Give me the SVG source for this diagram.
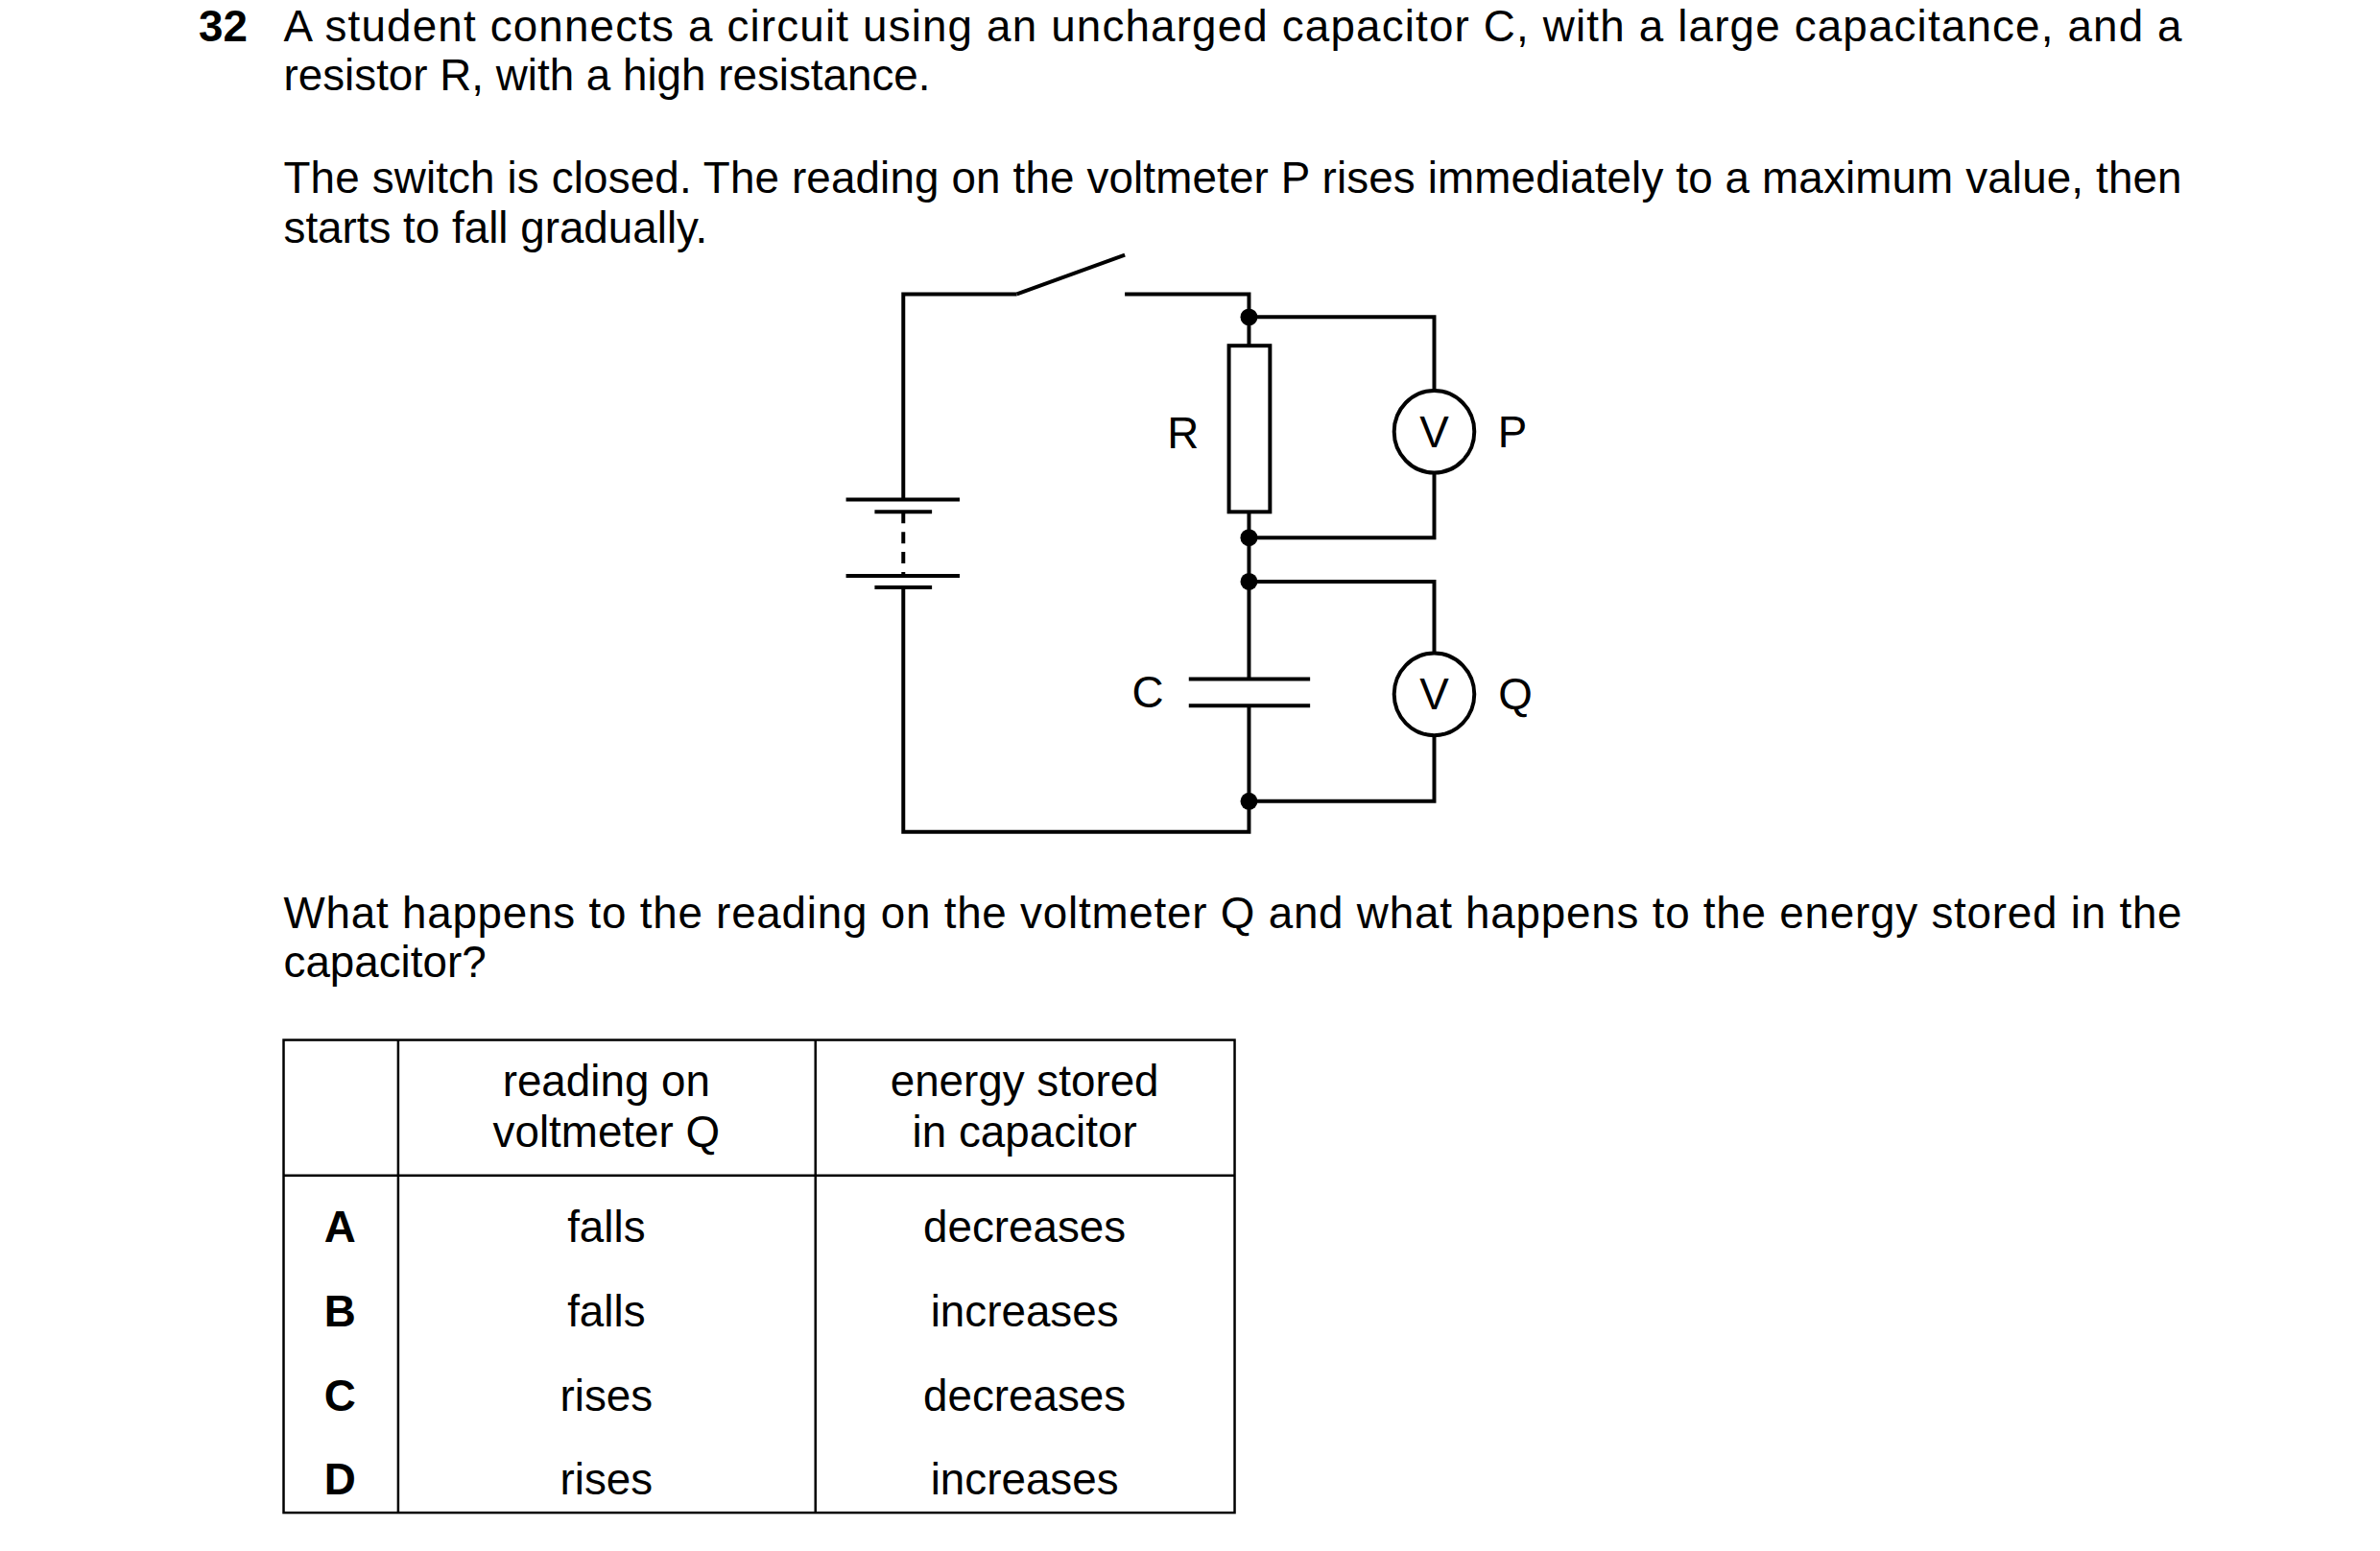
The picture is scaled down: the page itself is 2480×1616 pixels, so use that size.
<svg xmlns="http://www.w3.org/2000/svg" width="2480" height="1616" viewBox="0 0 2480 1616">
<style>
text{font-family:"Liberation Sans",Arial,sans-serif;font-size:46px;fill:#000}
.c{text-anchor:middle}
.b{font-weight:bold}
.w{stroke:#000;stroke-width:4;fill:none}
</style>
<rect width="2480" height="1616" fill="#fff"/>
<g transform="scale(0.995)">
<text x="208" y="43" class="b">32</text>
<text x="297" y="43" textLength="1988" lengthAdjust="spacing">A student connects a circuit using an uncharged capacitor C, with a large capacitance, and a</text>
<text x="297" y="94">resistor R, with a high resistance.</text>
<text x="297" y="202" textLength="1988" lengthAdjust="spacing">The switch is closed. The reading on the voltmeter P rises immediately to a maximum value, then</text>
<text x="297" y="254">starts to fall gradually.</text>
<g id="connectors" class="w">
<path class="w" d="M1065 308 H946 V523"/>
<path class="w" d="M1065 308 L1178 267"/>
<path class="w" d="M1178 308 H1308 V362"/>
<path class="w" d="M1308 536 V711"/>
<path class="w" d="M1308 739 V871 H946 V615"/>
<path class="w" d="M946 536 V603" stroke-dasharray="12,9"/>
<path class="w" d="M1308 332 H1502 V409 M1502 495 V563 H1308"/>
<path class="w" d="M1308 609 H1502 V684 M1502 770 V839 H1308"/>
</g>
<g id="battery" class="w"><path class="w" d="M886 523 H1005 M916 536 H976 M886 603 H1005 M916 615 H976"/></g>
<g id="R"><rect x="1287" y="362" width="43" height="174" class="w"/><text x="1239" y="469" class="c">R</text></g>
<g id="C"><path class="w" d="M1245 711 H1372 M1245 739 H1372"/><text x="1202" y="741" class="c">C</text></g>
<g id="P"><ellipse cx="1502" cy="452" rx="42" ry="43" class="w"/><text x="1502" y="468" class="c">V</text><text x="1584" y="468" class="c">P</text></g>
<g id="Q"><ellipse cx="1502" cy="727" rx="42" ry="43" class="w"/><text x="1502" y="743" class="c">V</text><text x="1587" y="743" class="c">Q</text></g>
<g id="junctions" fill="#000"><circle cx="1308" cy="332" r="9"/><circle cx="1308" cy="563" r="9"/><circle cx="1308" cy="609" r="9"/><circle cx="1308" cy="839" r="9"/></g>
<text x="297" y="972" textLength="1988" lengthAdjust="spacing">What happens to the reading on the voltmeter Q and what happens to the energy stored in the</text>
<text x="297" y="1023">capacitor?</text>
<g id="table">
<rect x="297" y="1089" width="996" height="495" fill="none" stroke="#000" stroke-width="2.5"/>
<path d="M417 1089 V1584 M854 1089 V1584 M297 1231 H1293" stroke="#000" stroke-width="2.5"/>
<text x="635" y="1148" class="c">reading on</text><text x="635" y="1201" class="c">voltmeter Q</text>
<text x="1073" y="1148" class="c">energy stored</text><text x="1073" y="1201" class="c">in capacitor</text>
<text x="356" y="1301" class="c b">A</text><text x="635" y="1301" class="c">falls</text><text x="1073" y="1301" class="c">decreases</text>
<text x="356" y="1389" class="c b">B</text><text x="635" y="1389" class="c">falls</text><text x="1073" y="1389" class="c">increases</text>
<text x="356" y="1477" class="c b">C</text><text x="635" y="1477" class="c">rises</text><text x="1073" y="1477" class="c">decreases</text>
<text x="356" y="1565" class="c b">D</text><text x="635" y="1565" class="c">rises</text><text x="1073" y="1565" class="c">increases</text>
</g>
</g>
</svg>
